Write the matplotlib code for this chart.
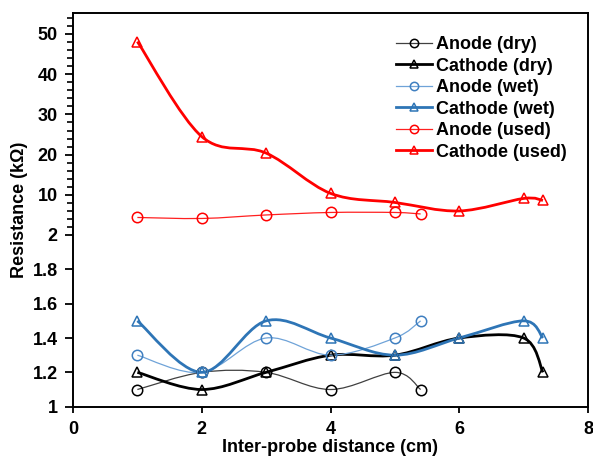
import numpy as np
import matplotlib
matplotlib.use("Agg")
import matplotlib.pyplot as plt
from matplotlib.path import Path
from matplotlib.patches import PathPatch
from matplotlib.lines import Line2D

plt.rcParams['font.family'] = ['Liberation Sans', 'DejaVu Sans']
plt.rcParams['font.weight'] = 'bold'

# inter-probe distance (cm)
dist_anode = [1, 2, 3, 4, 5, 5.4]
dist_cathode = [1, 2, 3, 4, 5, 6, 7, 7.3]

# resistance (kOhm)
anode_dry = [1.1, 1.2, 1.2, 1.1, 1.2, 1.1]
cathode_dry = [1.2, 1.1, 1.2, 1.3, 1.3, 1.4, 1.4, 1.2]
anode_wet = [1.3, 1.2, 1.4, 1.3, 1.4, 1.5]
cathode_wet = [1.5, 1.2, 1.5, 1.4, 1.3, 1.4, 1.5, 1.4]
anode_used = [5.5, 5.3, 6.0, 6.5, 6.5, 6.2]
cathode_used = [48.1, 24.5, 20.4, 10.4, 8.5, 6.8, 9.3, 8.9]

y_ticks = [1, 1.2, 1.4, 1.6, 1.8, 2, 10, 20, 30, 40, 50]
y_ticklabels = ['1', '1.2', '1.4', '1.6', '1.8', '2', '10', '20', '30', '40', '50']
x_ticks = [0, 2, 4, 6, 8]

# broken y axis: 1-2 stretched out, 2-10 squeezed, 10+ linear
knot_val = [0, 1, 2, 10, 60]
knot_pos = [-171.7, 0, 171.7, 211.7, 412.95]


def fwd(v):
    return np.interp(v, knot_val, knot_pos)


def inv(p):
    return np.interp(p, knot_pos, knot_val)


def smooth_path(x, y):
    # excel style smoothed line (catmull-rom bezier) built in scale space
    pts = np.column_stack([np.asarray(x, float), fwd(np.asarray(y, float))])
    ext = np.vstack([pts[0], pts, pts[-1]])
    verts = [pts[0]]
    codes = [Path.MOVETO]
    for i in range(len(pts) - 1):
        p0, p1, p2, p3 = ext[i], ext[i + 1], ext[i + 2], ext[i + 3]
        verts += [p1 + (p2 - p0) / 6, p2 - (p3 - p1) / 6, p2]
        codes += [Path.CURVE4] * 3
    verts = np.array(verts)
    verts[:, 1] = inv(verts[:, 1])
    return Path(verts, codes)


series = [
    ("Anode (dry)", dist_anode, anode_dry, '#404040', 'black', 0.9, 'o'),
    ("Cathode (dry)", dist_cathode, cathode_dry, 'black', 'black', 2.0, '^'),
    ("Anode (wet)", dist_anode, anode_wet, '#6FA3D8', '#3F7FC0', 0.9, 'o'),
    ("Cathode (wet)", dist_cathode, cathode_wet, '#2E75B6', '#2E75B6', 2.0, '^'),
    ("Anode (used)", dist_anode, anode_used, '#FF2020', '#FF0000', 0.9, 'o'),
    ("Cathode (used)", dist_cathode, cathode_used, '#FF0000', '#FF0000', 2.0, '^'),
]

fig = plt.figure(figsize=(5.93, 4.57), dpi=100)
ax = fig.add_axes([73 / 593, 1 - 406.7 / 457, (588 - 73) / 593, (406.7 - 13) / 457])
ax.set_yscale('function', functions=(fwd, inv))

handles = []
for label, xs, ys, lc, mc, lw, mk in series:
    ax.add_patch(PathPatch(smooth_path(xs, ys), fill=False, edgecolor=lc, lw=lw, zorder=2))
    ax.plot(xs, ys, ls='none', marker=mk, ms=7.5, mfc='none', mec=mc, mew=1.1, zorder=3)
    handles.append(Line2D([], [], color=lc, lw=lw, marker=mk, ms=6, mfc='none', mec=mc, mew=1.1))

ax.set_xlim(0, 8)
ax.set_ylim(1, 55.2)
ax.set_xticks(x_ticks)
ax.set_xticklabels([str(t) for t in x_ticks])
ax.set_yticks(y_ticks)
ax.set_yticklabels(y_ticklabels)
minor = list(np.linspace(2, 10, 6)[1:-1]) + [v for v in range(12, 56, 2) if v % 10]
ax.set_yticks(minor, minor=True)

ax.tick_params(axis='both', which='major', labelsize=13, direction='out', width=1.3, color='black')
ax.tick_params(axis='y', which='major', length=6, pad=5)
ax.tick_params(axis='y', which='minor', length=4, width=1.2)
ax.tick_params(axis='x', which='major', length=4, pad=6)
for sp in ax.spines.values():
    sp.set_linewidth(1.4)

ax.set_xlabel('Inter-probe distance (cm)', fontsize=13, fontweight='bold', labelpad=1)
ax.set_ylabel('Resistance (k\u03a9)', fontsize=13, fontweight='bold', labelpad=3)

fig.legend(handles, [s[0] for s in series], loc='upper left',
           bbox_to_anchor=(396 / 593, 1 - 36 / 457), frameon=False, fontsize=13,
           handlelength=2.0, handletextpad=0.2, labelspacing=0.25,
           borderpad=0, borderaxespad=0)

fig.savefig('out.png', dpi=100)
